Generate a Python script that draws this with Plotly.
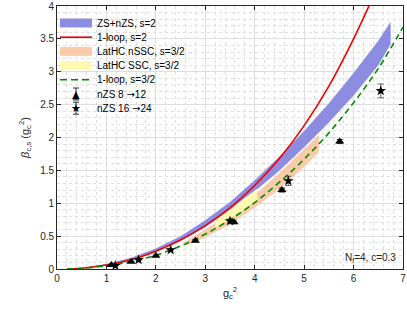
import plotly.graph_objects as go

# ---- data ----
g_red = [0.2, 0.5, 1.0, 1.5, 2.0, 2.5, 3.0, 3.5, 4.0, 4.5, 5.0, 5.5, 6.0, 6.4]
b_red = [0.0005, 0.012, 0.06, 0.14, 0.27, 0.44, 0.66, 0.93, 1.27, 1.68, 2.18, 2.78, 3.50, 4.15]

g_blue = [0.2, 0.5, 1.0, 1.5, 2.0, 2.5, 3.0, 3.5, 4.0, 4.5, 5.0, 5.5, 6.0, 6.5, 6.75]
b_blue_hi = [0.001, 0.015, 0.075, 0.17, 0.31, 0.50, 0.74, 1.02, 1.35, 1.71, 2.10, 2.52, 2.98, 3.47, 3.76]
b_blue_lo = [0.0005, 0.011, 0.06, 0.14, 0.27, 0.43, 0.64, 0.89, 1.18, 1.50, 1.85, 2.23, 2.64, 3.10, 3.42]

g_green = [0.2, 0.5, 1.0, 1.5, 2.0, 2.5, 3.0, 3.5, 4.0, 4.5, 5.0, 5.5, 6.0, 6.5, 7.0]
b_green = [0.0005, 0.01, 0.05, 0.115, 0.21, 0.35, 0.53, 0.75, 1.01, 1.32, 1.67, 2.07, 2.53, 3.05, 3.68]

g_orange = [2.6, 3.0, 3.5, 4.0, 4.5, 5.0, 5.3]
b_orange_hi = [0.42, 0.60, 0.85, 1.13, 1.46, 1.82, 2.04]
b_orange_lo = [0.35, 0.48, 0.68, 0.93, 1.22, 1.55, 1.78]

g_yellow = [3.2, 3.5, 3.8, 4.05]
b_yellow_hi = [0.74, 0.90, 1.08, 1.22]
b_yellow_lo = [0.62, 0.76, 0.92, 1.05]

g_tri = [1.1, 1.5, 2.0, 2.8, 3.58, 4.55, 5.72]
b_tri = [0.06, 0.11, 0.20, 0.43, 0.71, 1.20, 1.94]
e_tri = [0.005, 0.008, 0.01, 0.015, 0.02, 0.03, 0.03]

g_star = [1.18, 1.65, 2.3, 3.5, 4.68, 6.55]
b_star = [0.05, 0.14, 0.29, 0.73, 1.34, 2.71]
e_star = [0.005, 0.01, 0.015, 0.03, 0.07, 0.105]

x_ticks = [0, 1, 2, 3, 4, 5, 6, 7]
y_ticks = [0, 0.5, 1, 1.5, 2, 2.5, 3, 3.5, 4]

ARROW = '<span style="font-family:DejaVu Sans">→</span>'
legend_names = ["ZS+nZS, s=2", "1-loop, s=2", "LatHC nSSC, s=3/2", "LatHC SSC, s=3/2",
                "1-loop, s=3/2", "nZS 8 " + ARROW + "12", "nZS 16 " + ARROW + "24"]

FONT = "Liberation Sans, Arial, sans-serif"
AX = "#262626"
C_BLUE = "rgb(140,140,225)"
C_RED = "rgb(240,0,0)"
C_ORANGE = "rgb(250,203,170)"
C_YELLOW = "rgb(255,250,175)"
C_GREEN = "rgb(0,140,0)"

W, H = 407, 311
ML, MR, MT, MB = 57, 4, 6, 42
PW, PH = W - ML - MR, H - MT - MB

fig = go.Figure()

def band(gx, hi, lo, color, name):
    return go.Scatter(x=list(gx) + list(gx)[::-1], y=list(hi) + list(lo)[::-1],
                      fill="toself", fillcolor=color, mode="lines",
                      line=dict(width=0, color=color), name=name,
                      hoverinfo="skip", showlegend=False)

fig.add_trace(band(g_blue, b_blue_hi, b_blue_lo, C_BLUE, legend_names[0]))
fig.add_trace(go.Scatter(x=g_red, y=b_red, mode="lines", showlegend=False,
                         line=dict(color=C_RED, width=1.6, shape="spline"), name=legend_names[1]))
fig.add_trace(band(g_orange, b_orange_hi, b_orange_lo, C_ORANGE, legend_names[2]))
fig.add_trace(band(g_yellow, b_yellow_hi, b_yellow_lo, C_YELLOW, legend_names[3]))
fig.add_trace(go.Scatter(x=g_green, y=b_green, mode="lines", showlegend=False,
                         line=dict(color=C_GREEN, width=1.6, dash="6px,4px", shape="spline"),
                         name=legend_names[4]))
fig.add_trace(go.Scatter(x=g_tri, y=b_tri, mode="markers", showlegend=False,
                         marker=dict(symbol="triangle-up", size=8, color="black"),
                         error_y=dict(type="data", array=e_tri, color="black", thickness=0.8, width=3),
                         name=legend_names[5]))
fig.add_trace(go.Scatter(x=g_star, y=b_star, mode="markers", showlegend=False,
                         marker=dict(symbol="star", size=8, color="black"),
                         error_y=dict(type="data", array=e_star, color="#444", thickness=0.8, width=3),
                         name=legend_names[6]))

grid_major = "rgb(222,222,222)"
grid_minor = "rgb(222,222,222)"

common = dict(showline=True, linecolor=AX, linewidth=0.8, mirror="ticks",
              ticks="inside", ticklen=4, tickcolor=AX, automargin=False,
              showgrid=True, gridcolor=grid_major, gridwidth=0.9, zeroline=False,
              tickfont=dict(family=FONT, size=10, color=AX))

fig.update_xaxes(range=[0, 7], tickvals=x_ticks, ticktext=[str(v) for v in x_ticks],
                 minor=dict(dtick=0.2, showgrid=True, gridcolor=grid_minor, griddash="dot", gridwidth=0.6),
                 title=dict(text="g<sub>c</sub><sup>2</sup>", font=dict(family=FONT, size=11, color=AX),
                            standoff=6), **common)
fig.update_yaxes(range=[0, 4], tickvals=y_ticks, ticktext=[("%g" % v) for v in y_ticks],
                 minor=dict(dtick=0.1, showgrid=True, gridcolor=grid_minor, griddash="dot", gridwidth=0.6),
                 title=dict(text="<i>β</i><sub>c,s</sub> (g<sub>c</sub><sup>2</sup>)",
                            font=dict(family=FONT, size=11, color=AX), standoff=8), **common)

fig.add_annotation(x=6.9, y=0.04, xref="x", yref="y", xanchor="right", yanchor="bottom",
                   text="N<sub>f</sub>=4, c=0.3", showarrow=False,
                   font=dict(family=FONT, size=10, color=AX))

# ---- legend drawn compactly (MATLAB-style spacing) ----
def px(x):
    return (x - ML) / PW

def py(y):
    return (H - MB - y) / PH

shapes = []
row0, step = 23.0, 14.2
kx0, kx1, kmid, tx = 60, 92, 76, 95
kinds = ["patch", "line", "patch", "patch", "dash", "tri", "star"]
kcolors = [C_BLUE, C_RED, C_ORANGE, C_YELLOW, C_GREEN, "black", "black"]
for i, (name, kind, col) in enumerate(zip(legend_names, kinds, kcolors)):
    yc = row0 + step * i
    if kind == "patch":
        shapes.append(dict(type="rect", xref="paper", yref="paper", x0=px(kx0), x1=px(kx1),
                           y0=py(yc + 4.5), y1=py(yc - 4.5), fillcolor=col, line=dict(width=0), layer="above"))
    elif kind in ("line", "dash"):
        shapes.append(dict(type="line", xref="paper", yref="paper", x0=px(kx0), x1=px(kx1),
                           y0=py(yc), y1=py(yc), layer="above",
                           line=dict(color=col, width=1.6, dash="solid" if kind == "line" else "7px,4px")))
    else:
        shapes.append(dict(type="line", xref="paper", yref="paper", x0=px(kmid), x1=px(kmid),
                           y0=py(yc - 6), y1=py(yc + 6), line=dict(color="black", width=0.8), layer="above"))
        for dy in (-6, 6):
            shapes.append(dict(type="line", xref="paper", yref="paper", x0=px(kmid - 3), x1=px(kmid + 3),
                               y0=py(yc + dy), y1=py(yc + dy), line=dict(color="black", width=0.8),
                               layer="above"))
        glyph = "▲" if kind == "tri" else "★"
        fig.add_annotation(x=px(kmid), y=py(yc), xref="paper", yref="paper", xanchor="center",
                           yanchor="middle", text=glyph, showarrow=False,
                           font=dict(family="DejaVu Sans", size=10 if kind == "tri" else 11, color="black"))
    fig.add_annotation(x=px(tx), y=py(yc), xref="paper", yref="paper", xanchor="left", yanchor="middle",
                       text=name, showarrow=False, font=dict(family=FONT, size=10, color="black"))

fig.update_layout(width=W, height=H, autosize=False,
                  margin=dict(l=ML, r=MR, t=MT, b=MB),
                  plot_bgcolor="white", paper_bgcolor="white",
                  showlegend=False, shapes=shapes)

fig.write_html("out.html", config={"displayModeBar": False},
               post_script="document.body.style.margin='0';document.body.style.overflow='hidden';")
